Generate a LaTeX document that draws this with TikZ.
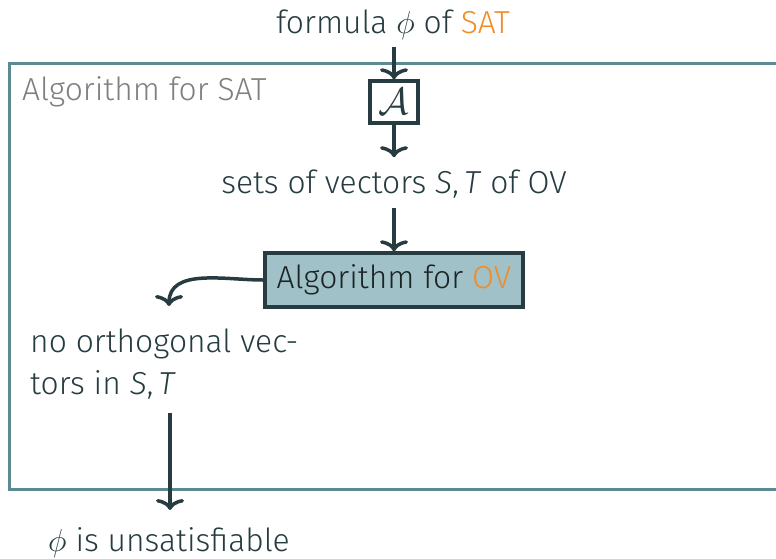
\RequirePackage{fix-cm}
\documentclass[tikz,border=0pt]{standalone}
\usepackage{fontspec}
\setmainfont{Fira Sans Light}
\usetikzlibrary{arrows.meta}
\definecolor{ink}{HTML}{263C41}
\definecolor{boxink}{HTML}{1B2528}
\definecolor{frame}{HTML}{5B8A91}
\definecolor{ovfill}{HTML}{A0C1C7}
\definecolor{satorange}{HTML}{F28C28}
\definecolor{labelgray}{HTML}{7F7F7F}
\tikzset{
  txt/.style={inner sep=0pt, text=ink, font=\fontsize{31.8}{38}\selectfont},
  arr/.style={draw=ink, line width=3.5pt, -{Computer Modern Rightarrow[length=11pt,width=28pt,line width=3.5pt]}},
  abox/.style={draw=ink, line width=3.5pt, minimum width=48pt, minimum height=42pt, inner sep=0pt, text=ink, font=\fontsize{38}{44}\selectfont},
  ovbox/.style={draw=ink, fill=ovfill, line width=3.5pt, minimum width=258pt, minimum height=54pt, inner sep=0pt, text=boxink, font=\fontsize{31.8}{38}\selectfont},
}
\begin{document}
\begin{tikzpicture}[x=1pt,y=-1pt]
\useasboundingbox (0,0) rectangle (776,558);
\clip (0,0) rectangle (776,558);
% outer frame
\draw[frame, line width=3pt] (800,63) -- (9,63) -- (9,489) -- (800,489);
\node[txt, text=labelgray, anchor=base west] (lab) at (22,100) {Algorithm for SAT};
% nodes
\node[txt, anchor=base] (phi) at (393,33) {formula $\phi$ of \textcolor{satorange}{SAT}};
\node[abox] (A) at (394,102) {$\mathcal{A}$};
\node[txt, anchor=base] (sets) at (394,193) {sets of vectors \textit{S},\,\textit{T} of OV};
\node[ovbox] (ov) at (394,280) {Algorithm for \textcolor{satorange}{OV}};
\node[txt, anchor=base west] (no1) at (30,352) {no orthogonal vec-};
\node[txt, anchor=base west] (no2) at (30,394) {tors in \textit{S},\,\textit{T}};
\node[txt, anchor=base west] (uns) at (48,551) {$\phi$ is unsatisfiable};
\coordinate (c1) at (169,306);
\coordinate (d1) at (170,413);
\coordinate (d2) at (170,510);
% connectors
\draw[arr] ([yshift=-8pt]phi.south -| A.north) -- (A.north);
\draw[arr] (A.south) -- ([yshift=12pt]sets.north -| A.south);
\draw[arr] ([yshift=-10pt]sets.south -| A.south) -- (ov.north -| A.south);
\draw[arr] (ov.west) to[out=180,in=90] (c1);
\draw[arr] (d1) -- (d2);
\end{tikzpicture}
\end{document}
